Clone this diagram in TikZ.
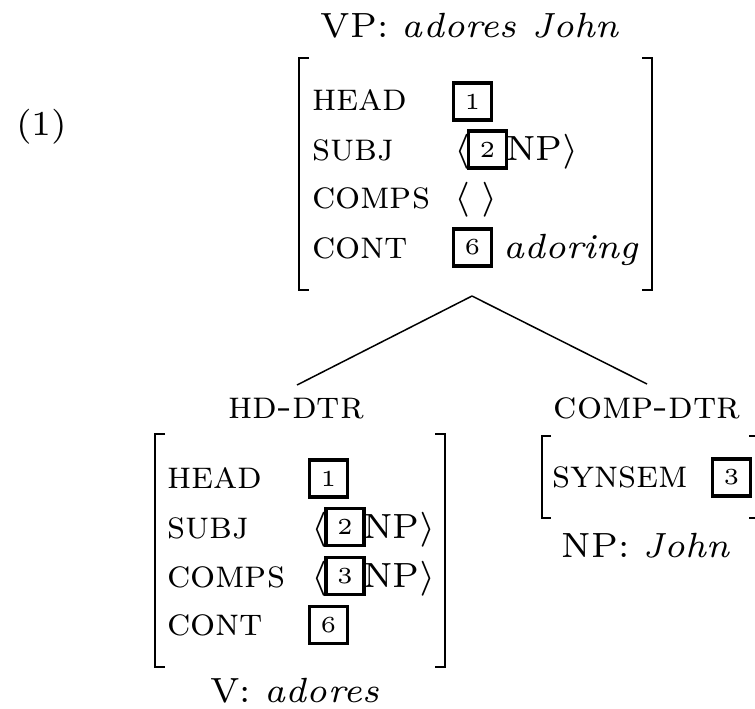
\documentclass[tikz,border=0pt]{standalone}
\tikzset{
  txt/.style={inner sep=0pt, outer sep=0pt, font=\fontsize{7}{8.4}\selectfont},
  lab/.style={txt, anchor=base west, font=\fontsize{7.9}{9.5}\selectfont\scshape},
  tagbox/.style={draw, line width=0.65pt, inner sep=0pt, minimum width=7.6pt, minimum height=7.4pt, font=\fontsize{4.6}{5.5}\selectfont},
  brk/.style={line width=0.4pt},
  branch/.style={line width=0.3pt},
}
\begin{document}
\begin{tikzpicture}[x=0.2pt,y=-0.2pt]
\useasboundingbox (0,0) rectangle (755,708);
\clip (0,0) rectangle (755,708);
% example number and mother label
\node[txt, anchor=base west] (ex) at (16,135) {(1)};
\node[txt, anchor=base] (vp) at (470,37) {VP: \textit{adores John}};
% top AVM
\draw[brk] (309,58) -- (299,58) -- (299,290) -- (309,290);
\draw[brk] (642,58) -- (652,58) -- (652,290) -- (642,290);
\node[lab] (t-head) at (312,110) {head};
\node[lab] (t-subj) at (312,160) {subj};
\node[lab] (t-comps) at (312,208) {comps};
\node[lab] (t-cont) at (312,258) {cont};
\node[tagbox] (t-b1) at (472.5,101.5) {1};
\node[txt, anchor=base west] (t-la) at (454,160) {$\langle$};
\node[tagbox] (t-b2) at (487.5,149.5) {2};
\node[txt, anchor=base west] (t-np) at (506,160) {NP$\rangle$};
\node[txt, anchor=base west] (t-empty) at (454,208) {$\langle\;\rangle$};
\node[tagbox] (t-b6) at (472.5,247.5) {6};
\node[txt, anchor=base west] (t-sem) at (503,258) {\textit{adoring}};
% branches
\coordinate (apex) at (472,296);
\coordinate (hd-top) at (297,385);
\coordinate (cd-top) at (647,384);
\draw[branch] (apex) -- (hd-top);
\draw[branch] (apex) -- (cd-top);
% daughters labels
\node[lab, anchor=base] (hd) at (296,418) {hd-dtr};
\node[lab, anchor=base] (cd) at (647,418) {comp-dtr};
% head daughter AVM
\draw[brk] (165,434) -- (155,434) -- (155,667) -- (165,667);
\draw[brk] (435,434) -- (445,434) -- (445,667) -- (435,667);
\node[lab] (b-head) at (167,488) {head};
\node[lab] (b-subj) at (167,538) {subj};
\node[lab] (b-comps) at (167,587) {comps};
\node[lab] (b-cont) at (167,635) {cont};
\node[tagbox] (b-b1) at (328.5,478.5) {1};
\node[txt, anchor=base west] (b-la1) at (311,538) {$\langle$};
\node[tagbox] (b-b2) at (345,527) {2};
\node[txt, anchor=base west] (b-np1) at (363,538) {NP$\rangle$};
\node[txt, anchor=base west] (b-la2) at (311,587) {$\langle$};
\node[tagbox] (b-b3) at (345,576) {3};
\node[txt, anchor=base west] (b-np2) at (363,587) {NP$\rangle$};
\node[tagbox] (b-b6) at (328.5,625) {6};
\node[txt, anchor=base] (v) at (295,702) {V: \textit{adores}};
% complement daughter AVM
\draw[brk] (551,436) -- (542,436) -- (542,518) -- (551,518);
\draw[brk] (749,436) -- (757,436) -- (757,518) -- (749,518);
\node[lab] (synsem) at (552,487) {synsem};
\node[tagbox] (r-b3) at (731.5,477.5) {3};
\node[txt, anchor=base] (np) at (646,557) {NP: \textit{John}};
\end{tikzpicture}
\end{document}
